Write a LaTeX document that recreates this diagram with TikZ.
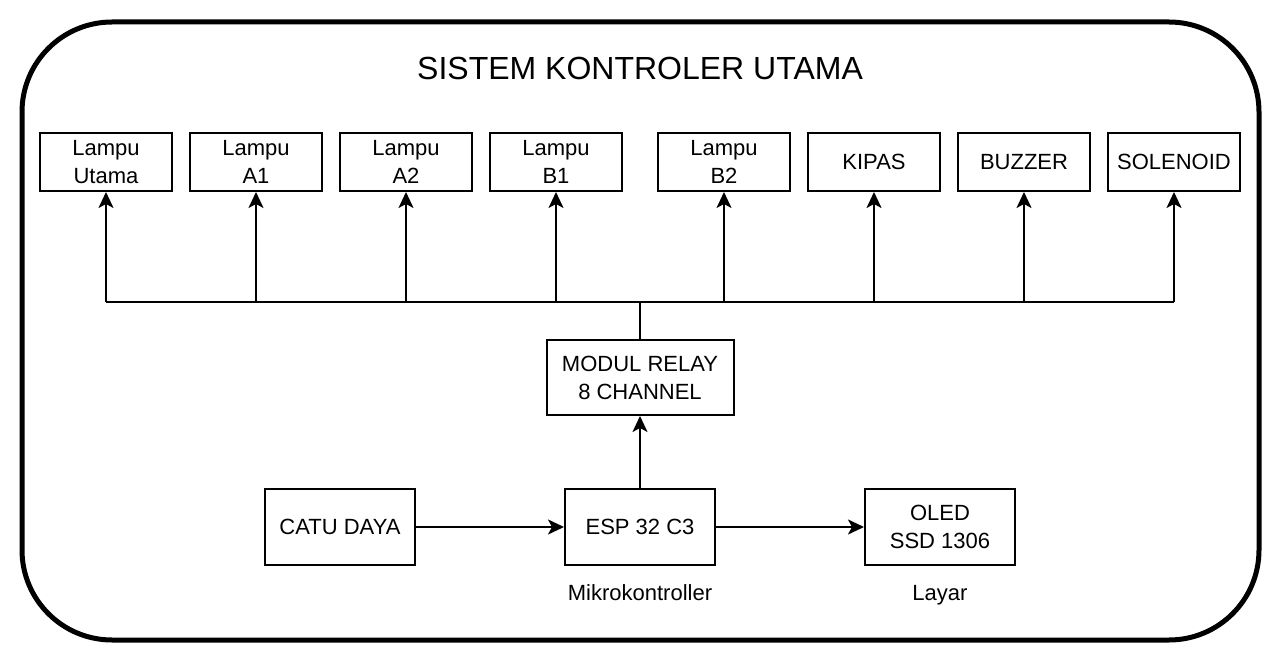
\documentclass[tikz,border=0pt]{standalone}
\usepackage{fontspec}
\setmainfont{Liberation Sans}
\usetikzlibrary{positioning,arrows.meta}

\begin{document}
\begin{tikzpicture}[font=\fontsize{11}{14}\selectfont,
  node distance=8pt,
  unit/.style={draw, line width=1pt, align=center, minimum width=66pt, minimum height=29pt, inner sep=0pt},
  blok/.style={draw, line width=1pt, align=center, minimum width=75pt, minimum height=38pt, inner sep=0pt},
  lbl/.style={inner sep=0pt, text height=8pt, text depth=0pt},
  arr/.style={-{Stealth[length=8pt, width=7.5pt, inset=2pt]}, line width=1pt}]
  \useasboundingbox (0,0) rectangle (640pt,-331.5pt);
  \draw[line width=2.5pt, rounded corners=45pt] (11pt,-11pt) rectangle (629.5pt,-320pt);
  \node[font=\fontsize{16}{19}\selectfont, anchor=base] (judul) at (320pt,-40pt) {SISTEM KONTROLER UTAMA};
  % keluaran relay
  \node[unit] (lu) at (53pt,-81pt) {Lampu\\ Utama};
  \node[unit, right=of lu] (a1) {Lampu\\ A1};
  \node[unit, right=of a1] (a2) {Lampu\\ A2};
  \node[unit, right=of a2] (b1) {Lampu\\ B1};
  \node[unit, right=17pt of b1] (b2) {Lampu\\ B2};
  \node[unit, right=of b2] (kipas) {KIPAS};
  \node[unit, right=of kipas] (buzzer) {BUZZER};
  \node[unit, right=of buzzer] (sol) {SOLENOID};
  % kontroler
  \node[blok] (esp) at (320pt,-263.5pt) {ESP 32 C3};
  \node[blok, left=74pt of esp] (catu) {CATU DAYA};
  \node[blok, right=74pt of esp] (oled) {OLED\\ SSD 1306};
  \node[blok, minimum width=93.5pt, minimum height=37.5pt, above=36pt of esp] (relay) {MODUL RELAY\\ 8 CHANNEL};
  \node[lbl, below=9pt of esp] (mk) {Mikrokontroller};
  \node[lbl, below=9pt of oled] (layar) {Layar};
  \draw[arr] (catu) -- (esp);
  \draw[arr] (esp) -- (oled);
  \draw[arr] (esp) -- (relay);
  \draw[line width=1pt] (relay.north) -- ++(0,18.5pt) coordinate (bus);
  \draw[line width=1pt] (bus -| lu.south) -- (bus -| sol.south);
  \foreach \u in {lu,a1,a2,b1,b2,kipas,buzzer,sol}
    \draw[arr] (bus -| \u.south) -- (\u.south);
\end{tikzpicture}
\end{document}
